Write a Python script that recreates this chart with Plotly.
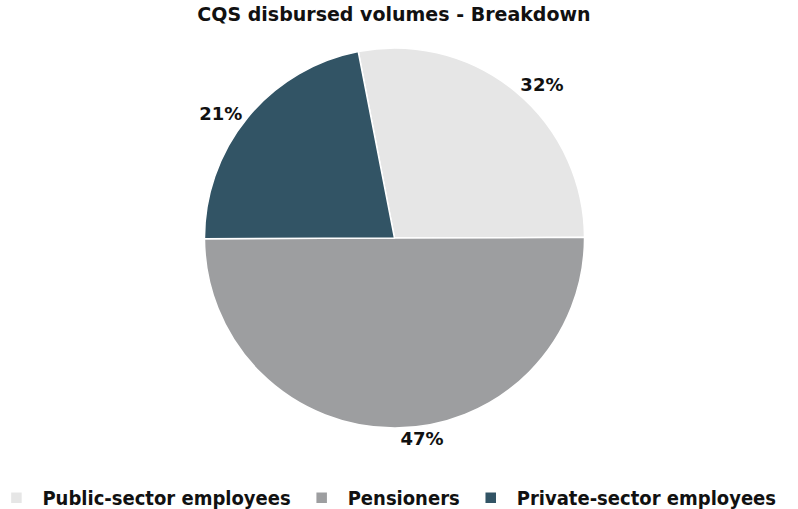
import plotly.graph_objects as go

categories = ["Public-sector employees", "Pensioners", "Private-sector employees"]
values = [28, 50, 22]
labels_text = ["32%", "47%", "21%"]
colors = ["#e6e6e6", "#9d9ea0", "#325465"]

fig = go.Figure(go.Pie(
    labels=categories,
    values=values,
    text=labels_text,
    textinfo="text",
    textposition="outside",
    sort=False,
    direction="clockwise",
    rotation=-11,
    marker=dict(colors=colors, line=dict(color="white", width=1.5)),
    textfont=dict(family="DejaVu Sans, sans-serif", size=18, color="#111111", weight="bold"),
    domain=dict(x=[0.2562, 0.7325], y=[0.159, 0.9057]),
    hoverinfo="label+text",
))

fig.update_layout(
    width=798, height=509,
    margin=dict(l=0, r=0, t=0, b=0, autoexpand=False),
    paper_bgcolor="white",
    title=dict(text="<b>CQS disbursed volumes - Breakdown</b>", x=0.4937, xanchor="center",
               y=0.9715, yanchor="middle",
               font=dict(family="DejaVu Sans, sans-serif", size=19, color="#111111")),
    showlegend=True,
    legend=dict(orientation="h", x=-0.012, xanchor="left", y=-0.016, yanchor="bottom",
                font=dict(family="DejaVu Sans Condensed, sans-serif", size=20,
                          color="#111111", weight="bold"),
                itemwidth=42, traceorder="normal"),
)

fig.write_html("out.html", config={"displayModeBar": False},
               post_script="document.body.style.margin='0px';")
